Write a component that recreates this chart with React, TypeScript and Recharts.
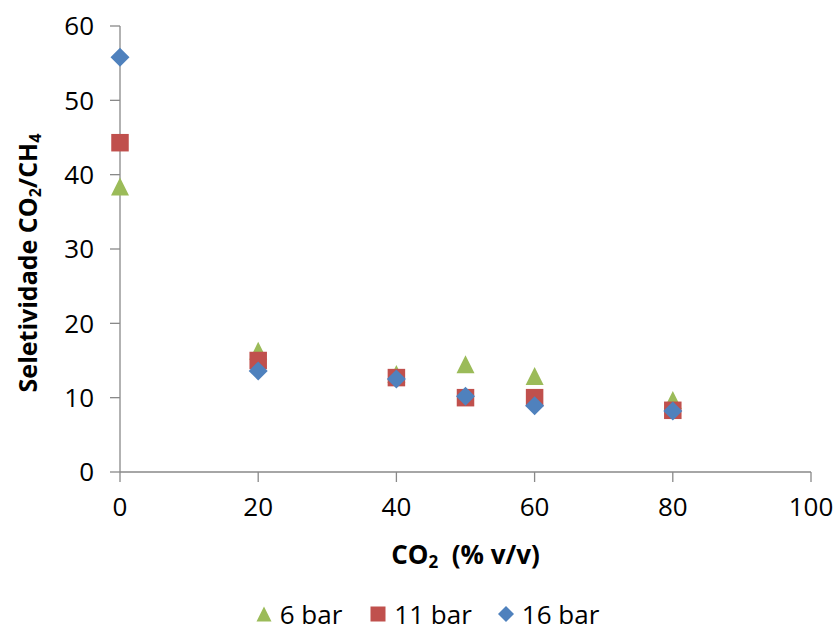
import {
  ScatterChart,
  Scatter,
  XAxis,
  YAxis,
  Legend,
  Label,
} from 'recharts'

const co2 = [0, 20, 40, 50, 60, 80]
const bar6 = [38.4, 16.3, 13.2, 14.5, 12.9, 9.7]
const bar11 = [44.3, 15.0, 12.7, 10.0, 10.0, 8.3]
const bar16 = [55.8, 13.6, 12.5, 10.2, 8.9, 8.2]

const xTicks = [0, 20, 40, 60, 80, 100]
const yTicks = [0, 10, 20, 30, 40, 50, 60]

const FONT = '"Open Sans", "Noto Sans", sans-serif'
const AXIS = '#898989'
const GREEN = '#9BBB59'
const RED = '#C0504D'
const BLUE = '#4F81BD'

const toPoints = (ys: number[]) => co2.map((x, i) => ({ x, y: ys[i] }))

const Triangle = (p: any) => {
  const s = 18
  const { cx, cy } = p
  return (
    <path
      d={`M${cx},${cy - s / 2} L${cx + s / 2},${cy + s / 2} L${cx - s / 2},${cy + s / 2} Z`}
      fill={GREEN}
    />
  )
}

const Square = (p: any) => {
  const s = 17.5
  return <rect x={p.cx - s / 2} y={p.cy - s / 2} width={s} height={s} fill={RED} />
}

const Diamond = (p: any) => {
  const r = 9.5
  const { cx, cy } = p
  return (
    <path d={`M${cx},${cy - r} L${cx + r},${cy} L${cx},${cy + r} L${cx - r},${cy} Z`} fill={BLUE} />
  )
}

function LegendContent() {
  const item = (icon: any, text: string, gap: number) => (
    <div style={{ display: 'flex', alignItems: 'center', marginRight: gap }}>
      <svg width={16} height={16} style={{ marginRight: 8 }}>
        {icon}
      </svg>
      <span>{text}</span>
    </div>
  )
  return (
    <div
      style={{
        display: 'flex',
        justifyContent: 'center',
        alignItems: 'center',
        fontFamily: FONT,
        fontSize: 26,
        lineHeight: '28px',
        height: 28,
        color: '#000',
        paddingLeft: 18,
      }}
    >
      {item(<path d="M8,0.5 L15.5,15.5 L0.5,15.5 Z" fill={GREEN} />, '6 bar', 28)}
      {item(<rect x={0.5} y={0.5} width={15} height={15} fill={RED} />, '11 bar', 26)}
      {item(<path d="M8,0 L16,8 L8,16 L0,8 Z" fill={BLUE} />, '16 bar', 0)}
    </div>
  )
}

const XTitle = (props: any) => {
  const { viewBox } = props
  const cx = viewBox.x + viewBox.width / 2
  return (
    <text x={cx} y={564} textAnchor="middle" fontFamily={FONT} fontWeight={700} fontSize={26} fill="#000">
      CO
      <tspan fontSize={17} dy={4}>2</tspan>
      <tspan dy={-4}>{'\u00a0\u00a0(% v/v)'}</tspan>
    </text>
  )
}

const YTitle = (props: any) => {
  const { viewBox } = props
  const cy = viewBox.y + viewBox.height / 2 + 14
  const x = 37
  return (
    <text
      x={x}
      y={cy}
      transform={`rotate(-90, ${x}, ${cy})`}
      textAnchor="middle"
      fontFamily={FONT}
      fontWeight={700}
      fontSize={25}
      fill="#000"
    >
      Seletividade CO
      <tspan fontSize={16} dy={4}>2</tspan>
      <tspan dy={-4}>/CH</tspan>
      <tspan fontSize={16} dy={4}>4</tspan>
    </text>
  )
}

export default function App() {
  const tickStyle = { fill: '#000', fontSize: 26, fontFamily: FONT }
  return (
    <div style={{ position: 'absolute', left: 0, top: 0, background: '#fff' }}>
      <ScatterChart width={837} height={633} margin={{ top: 26, right: 26, bottom: 61, left: 0 }}>
        <XAxis
          type="number"
          dataKey="x"
          domain={[0, 100]}
          ticks={xTicks}
          tick={tickStyle}
          tickSize={10}
          tickMargin={16}
          height={100}
          stroke={AXIS}
          axisLine={{ stroke: AXIS, strokeWidth: 1.3 }}
          tickLine={{ stroke: AXIS, strokeWidth: 1.3 }}
        >
          <Label content={<XTitle />} />
        </XAxis>
        <YAxis
          type="number"
          dataKey="y"
          domain={[0, 60]}
          ticks={yTicks}
          tick={tickStyle}
          tickSize={10}
          tickMargin={16}
          width={120}
          stroke={AXIS}
          axisLine={{ stroke: AXIS, strokeWidth: 1.3 }}
          tickLine={{ stroke: AXIS, strokeWidth: 1.3 }}
        >
          <Label content={<YTitle />} />
        </YAxis>
        <Legend
          verticalAlign="middle"
          align="center"
          wrapperStyle={{ top: 600, left: 0, width: 837 }}
          content={<LegendContent />}
        />
        <Scatter name="6 bar" data={toPoints(bar6)} shape={<Triangle />} isAnimationActive={false} />
        <Scatter name="11 bar" data={toPoints(bar11)} shape={<Square />} isAnimationActive={false} />
        <Scatter name="16 bar" data={toPoints(bar16)} shape={<Diamond />} isAnimationActive={false} />
      </ScatterChart>
    </div>
  )
}
